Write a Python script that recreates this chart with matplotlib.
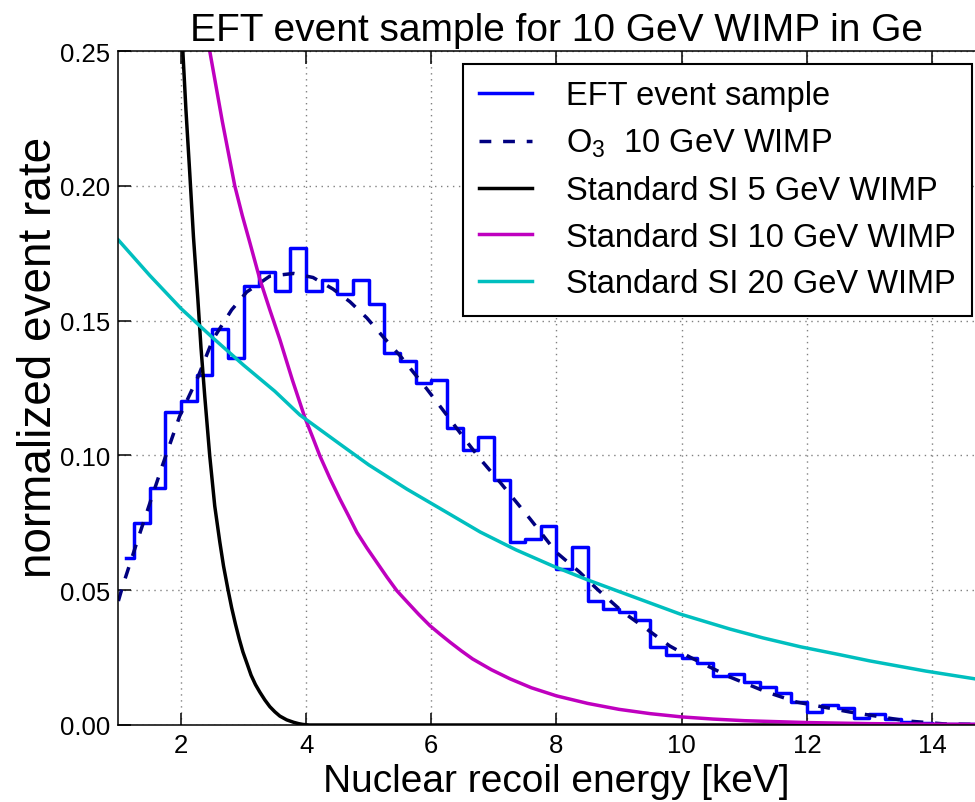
import matplotlib
matplotlib.use('Agg')
import matplotlib.pyplot as plt
import numpy as np

# fonts / style: old classic look with inward ticks on all sides
plt.rcParams.update({'font.family': ['Liberation Sans', 'DejaVu Sans']})
plt.rcParams.update({'mathtext.fontset': 'custom'})
plt.rcParams.update({'mathtext.rm': 'Liberation Sans'})
plt.rcParams.update({'mathtext.it': 'Liberation Sans:italic'})
plt.rcParams.update({'xtick.direction': 'in', 'ytick.direction': 'in'})
plt.rcParams.update({'xtick.top': True, 'ytick.right': True})
plt.rcParams.update({'axes.linewidth': 1.1})

#%% data

# histogram of the EFT event sample (bin centres, 0.25 keV bins)
bin_centres = [1.125, 1.375, 1.625, 1.875, 2.125, 2.375, 2.625, 2.875, 3.125, 3.375,
               3.625, 3.875, 4.125, 4.375, 4.625, 4.875, 5.125, 5.375, 5.625, 5.875,
               6.125, 6.375, 6.625, 6.875, 7.125, 7.375, 7.625, 7.875, 8.125, 8.375,
               8.625, 8.875, 9.125, 9.375, 9.625, 9.875, 10.125, 10.375, 10.625, 10.875,
               11.125, 11.375, 11.625, 11.875, 12.125, 12.375, 12.625, 12.875, 13.125, 13.375,
               13.625, 13.875, 14.125, 14.375, 14.625, 14.875]
sample_rate = [0.062, 0.075, 0.088, 0.116, 0.120, 0.130, 0.147, 0.136, 0.163, 0.168,
               0.161, 0.177, 0.161, 0.165, 0.160, 0.165, 0.156, 0.138, 0.135, 0.127,
               0.128, 0.110, 0.102, 0.107, 0.091, 0.068, 0.069, 0.074, 0.058, 0.066,
               0.046, 0.043, 0.042, 0.039, 0.029, 0.026, 0.025, 0.023, 0.018, 0.019,
               0.016, 0.014, 0.012, 0.0085, 0.005, 0.0074, 0.0063, 0.0026, 0.0041, 0.0022,
               0.0011, 0.0007, 0.0004, 0.0004, 0.0004, 0.0002]

# O3 operator, 10 GeV WIMP
o3_E = [1.0, 1.07, 1.35, 1.70, 1.98, 2.27, 2.51, 2.81, 3.05, 3.42, 3.80, 4.11, 4.43, 4.70,
        4.97, 5.23, 5.50, 5.93, 6.18, 6.57, 6.78, 7.10, 7.58, 8.0, 8.37, 8.65, 9.06, 9.44,
        9.81, 10.13, 10.77, 11.36, 11.84, 12.69, 13.6, 14.2, 15.0]
o3_rate = [0.046, 0.0516, 0.0716, 0.096, 0.1146, 0.129, 0.143, 0.154, 0.1606, 0.1665, 0.1675,
           0.166, 0.1617, 0.157, 0.151, 0.144, 0.137, 0.1246, 0.117, 0.105, 0.0987, 0.090,
           0.0764, 0.064, 0.0567, 0.0504, 0.0419, 0.0356, 0.0293, 0.0252, 0.0178, 0.0122,
           0.0085, 0.0048, 0.0015, 0.0004, 0.0001]

# standard SI, 5 GeV
si5_E = [1.95, 2.03, 2.08, 2.14, 2.20, 2.27, 2.32, 2.38, 2.46, 2.54, 2.62, 2.68, 2.75,
         2.81, 2.87, 2.93, 2.99, 3.06, 3.12, 3.19, 3.26, 3.34, 3.42, 3.50, 3.58, 3.69,
         3.80, 3.88, 3.95, 4.05, 15.0]
si5_rate = [0.29, 0.25, 0.228, 0.205, 0.181, 0.158, 0.140, 0.122, 0.0998, 0.0812, 0.068,
            0.059, 0.0504, 0.0435, 0.0375, 0.032, 0.0271, 0.0225, 0.0185, 0.015, 0.0122,
            0.0093, 0.0068, 0.0049, 0.0033, 0.0019, 0.001, 0.0005, 0.0002, 0.0, 0.0]

# standard SI, 10 GeV
si10_E = [2.40, 2.46, 2.56, 2.66, 2.76, 2.86, 2.98, 3.10, 3.26, 3.42, 3.58, 3.78, 3.98,
          4.10, 4.22, 4.38, 4.54, 4.68, 4.81, 4.97, 5.13, 5.29, 5.45, 5.62, 5.80, 5.98,
          6.14, 6.30, 6.48, 6.66, 6.96, 7.26, 7.60, 8.0, 8.5, 9.0, 9.5, 10.0, 10.5, 11.0,
          12.0, 13.0, 14.0, 15.0]
si10_rate = [0.27, 0.25, 0.237, 0.224, 0.212, 0.200, 0.189, 0.179, 0.1654, 0.154, 0.143,
             0.128, 0.114, 0.107, 0.0998, 0.0915, 0.0838, 0.0775, 0.0715, 0.0657, 0.0603,
             0.0549, 0.0498, 0.0455, 0.0410, 0.0368, 0.0337, 0.0307, 0.0275, 0.0245, 0.0205,
             0.0171, 0.0138, 0.0108, 0.0080, 0.0058, 0.0042, 0.0030, 0.0022, 0.0016,
             0.0009, 0.0005, 0.0003, 0.0002]

# standard SI, 20 GeV
si20_E = [1.0, 1.5, 2.0, 2.5, 3.0, 3.5, 3.9, 4.54, 5.0, 5.61, 6.2, 6.78, 7.35, 7.94, 8.5,
          9.0, 9.97, 10.77, 11.3, 11.9, 12.5, 13.0, 13.9, 14.8, 15.0]
si20_rate = [0.1799, 0.1668, 0.1545, 0.1438, 0.1335, 0.1238, 0.1150, 0.1042, 0.0965, 0.0875,
             0.0795, 0.0716, 0.0650, 0.0590, 0.0538, 0.0495, 0.0412, 0.0356, 0.0323, 0.0290,
             0.0262, 0.0238, 0.0200, 0.0167, 0.0161]

labels = ['EFT event sample', 'O$_3$  10 GeV WIMP', 'Standard SI 5 GeV WIMP',
          'Standard SI 10 GeV WIMP', 'Standard SI 20 GeV WIMP']

#%% plot

fig = plt.figure(figsize=(9.75, 8.03), dpi=100)
ax = fig.add_axes([0.1214, 0.0959, 0.8987, 0.8393])

ax.plot(bin_centres, sample_rate, drawstyle='steps-mid', color='#0000ff', lw=2.5, label=labels[0])
ax.plot(o3_E, o3_rate, color='#000080', lw=2.5, dashes=(3.4, 3.4), label=labels[1])
ax.plot(si5_E, si5_rate, color='k', lw=2.5, label=labels[2])
ax.plot(si10_E, si10_rate, color='#bf00bf', lw=2.5, label=labels[3])
ax.plot(si20_E, si20_rate, color='#00bfbf', lw=2.5, label=labels[4])

ax.set_xlim(1, 15)
ax.set_ylim(0, 0.25)
ax.set_xticks([2, 4, 6, 8, 10, 12, 14])
ax.set_yticks([0, 0.05, 0.10, 0.15, 0.20, 0.25])
ax.set_yticklabels(['0.00', '0.05', '0.10', '0.15', '0.20', '0.25'])
ax.tick_params(labelsize=18.5, length=9, width=1.1, pad=6)
ax.grid(True, color='0.5', linestyle=(0, (1, 3.3)), lw=1.0)

ax.set_title('EFT event sample for 10 GeV WIMP in Ge', fontsize=28, pad=8)
ax.set_xlabel('Nuclear recoil energy [keV]', fontsize=28, labelpad=4)
ax.set_ylabel('normalized event rate', fontsize=33)
ax.yaxis.set_label_coords(-0.066, 0.547)

leg = ax.legend(loc='upper right', bbox_to_anchor=(0.9742, 0.9807), borderaxespad=0,
                fontsize=23.5, handlelength=1.6, handletextpad=1.05, labelspacing=0.48,
                borderpad=0.5, fancybox=False, framealpha=1)
leg.get_frame().set_edgecolor('k')
leg.get_frame().set_linewidth(1.5)

fig.savefig('out.png', dpi=100)
